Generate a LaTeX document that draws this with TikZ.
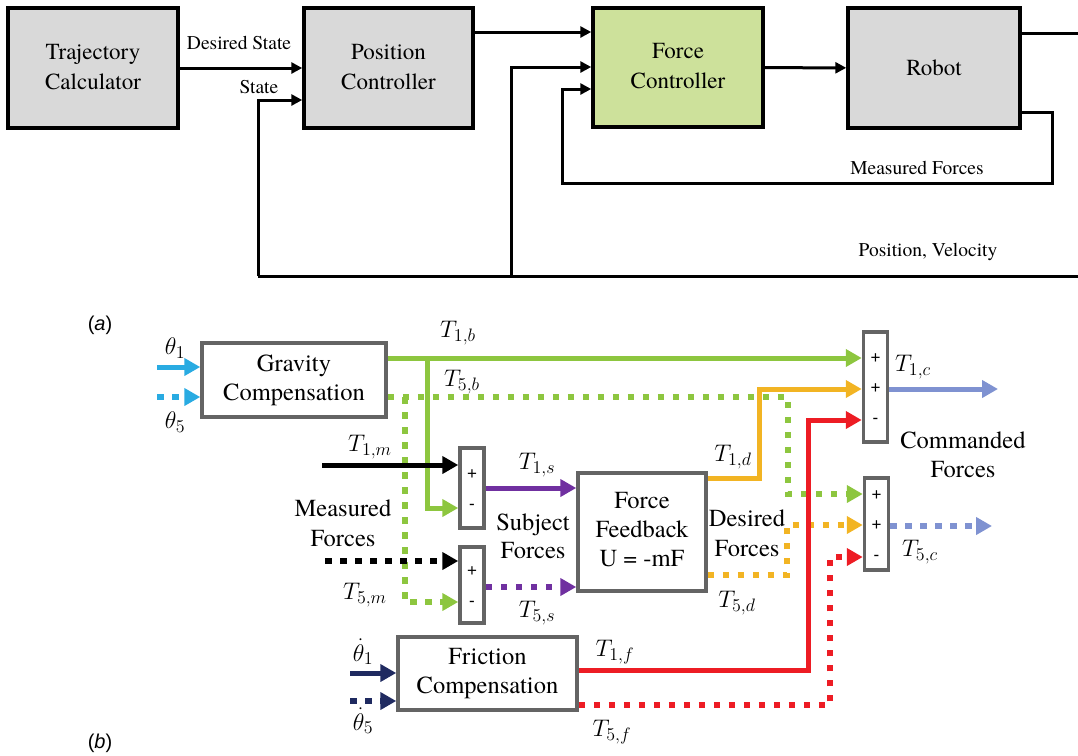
\RequirePackage{fix-cm}
\documentclass[tikz,border=0pt]{standalone}
\usepackage{amsmath}
\usepackage{fontspec}
\IfFontExistsTF{texgyretermes-regular.otf}
  {\newfontfamily\serf{texgyretermes-regular.otf}[BoldFont=texgyretermes-bold.otf, ItalicFont=texgyretermes-italic.otf]}
  {\newfontfamily\serf{lmroman10-regular.otf}}
\newfontfamily\sansf{Liberation Sans}
\DeclareMathSizes{19.2}{19.2}{14.4}{11.2}
\usepackage{tikz}
\usetikzlibrary{arrows.meta, calc}

\definecolor{blockgray}{RGB}{217,217,217}
\definecolor{forcegreen}{RGB}{205,225,155}
\definecolor{boxgray}{RGB}{100,100,100}
\definecolor{thetacyan}{RGB}{41,171,226}
\definecolor{gravgreen}{RGB}{141,198,63}
\definecolor{subjpurple}{RGB}{112,48,160}
\definecolor{desorange}{RGB}{242,180,35}
\definecolor{fricred}{RGB}{237,28,36}
\definecolor{cmdblue}{RGB}{127,146,209}
\definecolor{dthetanavy}{RGB}{31,42,96}

% stacked text lines
\newcommand{\twolines}[2]{\begin{tabular}{@{}c@{}}#1\\#2\end{tabular}}

\tikzset{
	topblock/.style={draw, line width=2.8pt, fill=blockgray, inner sep=0pt, font=\serf\fontsize{18.4}{24}\selectfont},
	topline/.style={line width=2.4pt, -{Triangle[length=8.8pt,width=8.8pt]}},
	toplabel/.style={font=\serf\fontsize{15.6}{19}\selectfont, inner sep=0pt},
	botblock/.style={draw=boxgray, line width=2.8pt, fill=white, inner sep=0pt, font=\serf\fontsize{19.6}{23.2}\selectfont},
	sumblock/.style={draw=boxgray, line width=2.8pt, fill=white, inner sep=0pt, minimum width=19.2pt, font=\sansf\fontsize{13.6}{24}\selectfont},
	signal/.style={line width=4pt, -{Triangle[length=12.8pt,width=13.6pt]}},
	dotsig/.style={line width=5.2pt, dash pattern=on 5.2pt off 6.8pt},
	botlabel/.style={font=\serf\fontsize{19.2}{23.2}\selectfont, inner sep=0pt},
}

\begin{document}
\begin{tikzpicture}[x=0.8pt, y=-0.8pt]
\useasboundingbox (0,0) rectangle (1078,755);

% Draw top blocks
\node[topblock, minimum width=136pt, minimum height=96pt] (traj) at (93,68) {\twolines{Trajectory}{Calculator}};
\node[topblock, minimum width=135.2pt, minimum height=96pt] (posc) at (388.5,68) {\twolines{Position}{Controller}};
\node[topblock, fill=forcegreen, minimum width=136pt, minimum height=95.2pt] (forcec) at (678,67.5) {\twolines{Force}{Controller}};
\node[topblock, minimum width=137.6pt, minimum height=96pt] (robot) at (934,68) {Robot};

% Feedback corners
\coordinate (stateTurn) at (258,276);
\coordinate (posvelJoin) at (511,276);
\coordinate (posvelEnd) at (1078,276);
\coordinate (robotOut) at (1078,33);
\coordinate (mfRight) at (1052,183);
\coordinate (mfLeft) at (562,183);

% Draw top connectors
\draw[topline] (traj) -- (posc);
\draw[topline] (stateTurn) |- (posc.west |- 0,100);
\draw[topline] (posc.east |- 0,32) -- (forcec.west |- 0,32);
\draw[topline] (posvelJoin) |- (forcec.west |- 0,67);
\draw[topline] (forcec) -- (robot);
\draw[line width=2.4pt] (robot.east |- 0,33) -- (robotOut);
\draw[topline] (robot.east |- 0,112) -| (mfRight) -- (mfLeft) |- (forcec.west |- 0,89);
\draw[line width=2.4pt] (stateTurn) -- (posvelEnd);

\node[toplabel] (desLbl) at (239,43) {Desired State};
\node[toplabel] (stateLbl) at (259,87) {State};
\node[toplabel] (mfLbl) at (917,168) {Measured Forces};
\node[toplabel] (pvLbl) at (928,252) {Position, Velocity};

% Panel letters
\node[font=\sansf\fontsize{16}{19}\selectfont] (panA) at (100,325) {(\textit{a})};
\node[font=\sansf\fontsize{16}{19}\selectfont] (panB) at (100,743) {(\textit{b})};

% Draw bottom blocks
\node[botblock, minimum width=147.2pt, minimum height=59.2pt] (grav) at (294,380) {\twolines{Gravity}{Compensation}};
\node[botblock, minimum width=102.4pt, minimum height=94.4pt] (ffb) at (642,532) {\begin{tabular}{@{}c@{}}Force\\Feedback\\U = -mF\end{tabular}};
\node[botblock, minimum width=143.2pt, minimum height=58.4pt] (fric) at (487.5,673.5) {\twolines{Friction}{Compensation}};
\node[sumblock, minimum height=64pt] (sumA) at (472,488) {\twolines{+}{-}};
\node[sumblock, minimum height=60.8pt] (sumB) at (472,585) {\twolines{+}{-}};
\node[sumblock, minimum height=88pt] (sumC) at (875.5,387) {\begin{tabular}{@{}c@{}}+\\+\\-\end{tabular}};
\node[sumblock, minimum height=73.6pt] (sumD) at (876.5,524) {\begin{tabular}{@{}c@{}}+\\+\\-\end{tabular}};

% Inputs
\coordinate (thOne) at (157,367);
\coordinate (thFive) at (157,397);
\coordinate (dthOne) at (350,673);
\coordinate (dthFive) at (350,701);
\coordinate (tmOne) at (322,465);
\coordinate (tmFive) at (325,561);
\coordinate (tcOne) at (998,389);
\coordinate (tcFive) at (992,526);

% Draw dotted signals (joint 5)
\draw[signal, dotsig, thetacyan] (thFive) -- (grav.west |- thFive);
\draw[signal, dotsig, dthetanavy] (dthFive) -- (fric.west |- dthFive);
\draw[signal, dotsig, gravgreen] (grav.east |- 0,397) -- (788,397) |- (sumD.west |- 0,494);
\draw[signal, dotsig, gravgreen] (405,397) |- (sumB.west |- 0,602);
\draw[signal, dotsig, black] (tmFive) -- (sumB.west |- tmFive);
\draw[signal, dotsig, subjpurple] (sumB.east |- 0,587) -- (ffb.west |- 0,587);
\draw[signal, dotsig, desorange] (ffb.east |- 0,575) -- (787,575) |- (sumD.west |- 0,525);
\draw[signal, dotsig, fricred] (fric.east |- 0,705) -- (830,705) |- (sumD.west |- 0,557);
\draw[signal, dotsig, cmdblue] (sumD.east |- tcFive) -- (tcFive);

% Draw solid signals (joint 1)
\draw[signal, thetacyan] (thOne) -- (grav.west |- thOne);
\draw[signal, dthetanavy] (dthOne) -- (fric.west |- dthOne);
\draw[signal, gravgreen] (grav.east |- 0,358) -- (sumC.west |- 0,358);
\draw[signal, gravgreen] (427,358) |- (sumA.west |- 0,508);
\draw[signal, black] (tmOne) -- (sumA.west |- tmOne);
\draw[signal, subjpurple] (sumA.east |- 0,488) -- (ffb.west |- 0,488);
\draw[signal, desorange] (ffb.east |- 0,478) -- (759,478) |- (sumC.west |- 0,389);
\draw[signal, fricred] (fric.east |- 0,670) -- (808,670) |- (sumC.west |- 0,420);
\draw[signal, cmdblue] (sumC.east |- tcOne) -- (tcOne);

% Signal labels
\node[botlabel] (lThOne) at (175,348) {$\theta_1$};
\node[botlabel] (lThFive) at (175,422) {$\theta_5$};
\node[botlabel] (lDthOne) at (363,652) {$\dot{\theta}_1$};
\node[botlabel] (lDthFive) at (363,721) {$\dot{\theta}_5$};
\node[botlabel] (lTob) at (458,333) {$T_{1,b}$};
\node[botlabel] (lTfb) at (462,382) {$T_{5,b}$};
\node[botlabel] (lTom) at (370,447) {$T_{1,m}$};
\node[botlabel] (lTfm) at (365,595) {$T_{5,m}$};
\node[botlabel] (lTos) at (537,465) {$T_{1,s}$};
\node[botlabel] (lTfs) at (537,613) {$T_{5,s}$};
\node[botlabel] (lTod) at (733,457) {$T_{1,d}$};
\node[botlabel] (lTfd) at (737,603) {$T_{5,d}$};
\node[botlabel] (lToc) at (913,367) {$T_{1,c}$};
\node[botlabel] (lTfc) at (920,552) {$T_{5,c}$};
\node[botlabel] (lTof) at (615,652) {$T_{1,f}$};
\node[botlabel] (lTff) at (612,732) {$T_{5,f}$};

\node[botlabel, font=\serf\fontsize{19.6}{24}\selectfont] (lMeas) at (343,525) {\twolines{Measured}{Forces}};
\node[botlabel, font=\serf\fontsize{19.6}{22.4}\selectfont] (lSubj) at (533,539) {\twolines{Subject}{Forces}};
\node[botlabel, font=\serf\fontsize{19.6}{24}\selectfont] (lDes) at (747,535) {\twolines{Desired}{Forces}};
\node[botlabel, font=\serf\fontsize{19.6}{23.2}\selectfont] (lCmd) at (963,457) {\twolines{Commanded}{Forces}};
\end{tikzpicture}
\end{document}
